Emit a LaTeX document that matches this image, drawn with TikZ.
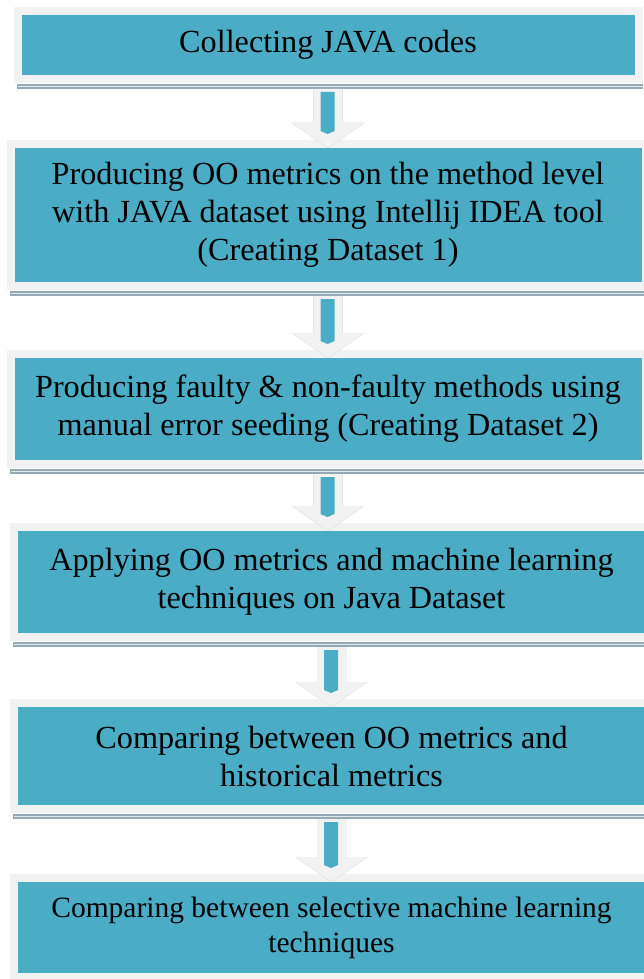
\documentclass[tikz,border=0pt]{standalone}
\usepackage{fontspec}
\setmainfont{Liberation Serif}
\usetikzlibrary{positioning,calc}

\definecolor{stepteal}{HTML}{4BACC6}
\definecolor{framegray}{HTML}{F2F2F2}
\definecolor{shadegray}{HTML}{93AAB4}

\newcommand{\arrowpath}{(\x1-14.5pt,\y1-6pt) -- (\x1+14.5pt,\y1-6pt) -- (\x1+14.5pt,\y2+17pt) -- (\x1+36pt,\y2+17pt) -- (\x1,\y2-8pt) -- (\x1-36pt,\y2+17pt) -- (\x1-14.5pt,\y2+17pt) -- cycle}
\newcommand{\flowarrow}[2]{%
  \fill[shadegray,shift={(2.5pt,-4pt)}] let \p1=(#1.south), \p2=(#2.north) in \arrowpath;
  \fill[framegray] let \p1=(#1.south), \p2=(#2.north) in \arrowpath;
  \fill[stepteal] let \p1=(#1.south), \p2=(#2.north) in (\x1-7.5pt,\y1-9pt) -- (\x1+6.5pt,\y1-9pt) -- (\x1+6.5pt,\y2+9pt) -- (\x1-0.5pt,\y2+6pt) -- (\x1-7.5pt,\y2+9pt) -- cycle;}
\newcommand{\boxshade}[1]{%
  \fill[shadegray] ($(#1.south west)+(3pt,-1pt)$) rectangle ($(#1.south east)+(0,-6pt)$);
  \draw[white!75!shadegray,line width=1pt] ($(#1.south west)+(4pt,-3.5pt)$) -- ($(#1.south east)+(0,-3.5pt)$);}

\begin{document}
\begin{tikzpicture}[x=1pt,y=-1pt,
    stepbox/.style={rectangle,fill=stepteal,draw=framegray,line width=8pt,align=center,
    font=\fontsize{32.2}{38}\selectfont}]

\useasboundingbox (0,0) rectangle (643,979);

\node[stepbox,minimum width=621pt,minimum height=68pt]  (collect)   at (328,45)              {Collecting JAVA codes};
\node[stepbox,minimum width=635pt,minimum height=142pt] (metrics)   [below=57pt of collect]  {Producing OO metrics on the method level\\with JAVA dataset using Intellij IDEA tool\\(Creating Dataset 1)};
\node[stepbox,minimum width=635pt,minimum height=110pt] (seeding)   [below=60pt of metrics]  {Producing faulty \& non-faulty methods using\\manual error seeding (Creating Dataset 2)};
\node[stepbox,minimum width=636pt,minimum height=110pt] (applying)  [below=55pt of seeding,xshift=3.5pt] {Applying OO metrics and machine learning\\techniques on Java Dataset};
\node[stepbox,minimum width=636pt,minimum height=106pt] (compareoo) [below=58pt of applying] {Comparing between OO metrics and\\historical metrics};
\node[stepbox,minimum width=635pt,minimum height=99pt,font=\fontsize{29.5}{35}\selectfont] (compareml) [below=61pt of compareoo] {Comparing between selective machine learning\\techniques};

\boxshade{collect}
\boxshade{metrics}
\boxshade{seeding}
\boxshade{applying}
\boxshade{compareoo}

\flowarrow{collect}{metrics}
\flowarrow{metrics}{seeding}
\flowarrow{seeding}{applying}
\flowarrow{applying}{compareoo}
\flowarrow{compareoo}{compareml}
\end{tikzpicture}
\end{document}
